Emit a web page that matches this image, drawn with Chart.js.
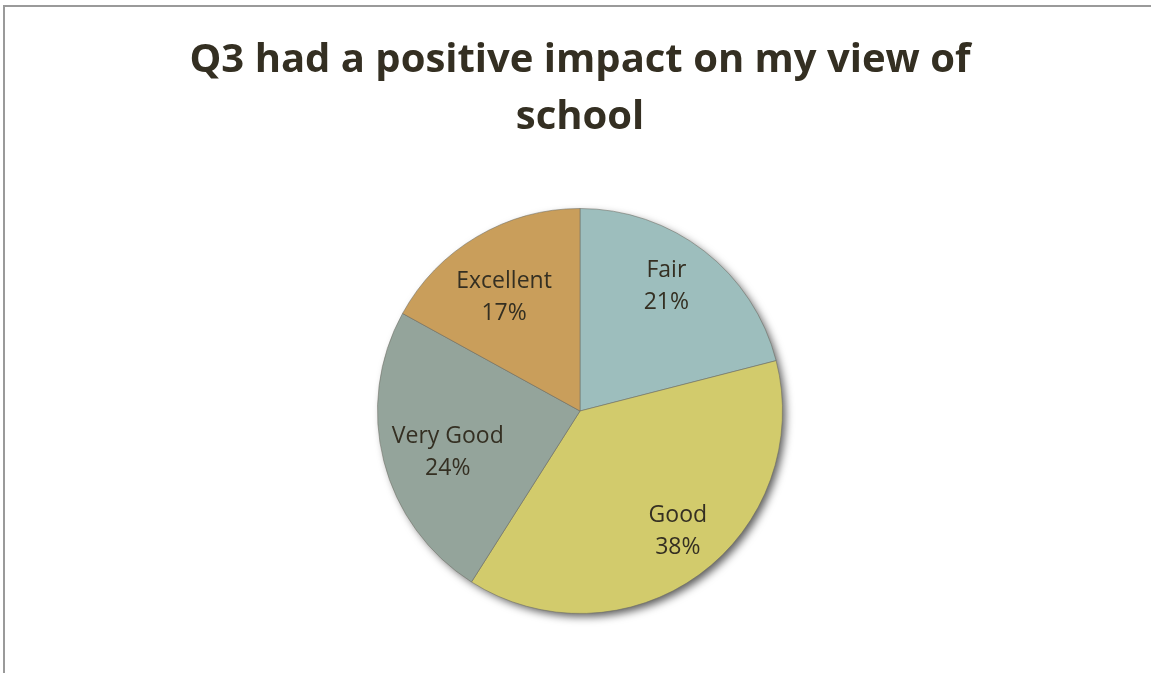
<!DOCTYPE html>
<html>
<head>
<meta charset="utf-8">
<script src="https://cdn.jsdelivr.net/npm/chart.js@4/dist/chart.umd.min.js"></script>
<style>
  html, body { margin: 0; padding: 0; background: #fff; overflow: hidden; }
  #frame {
    position: absolute; left: 3px; top: 5px;
    width: 1200px; height: 700px;
    border-left: 2px solid #9a9a9a; border-top: 2px solid #9a9a9a;
    box-sizing: border-box;
  }
  #wrap { position: absolute; left: 0; top: 0; width: 1151px; height: 673px; }
</style>
</head>
<body>
<div id="frame"></div>
<div id="wrap"><canvas id="c" width="1151" height="673"></canvas></div>
<script>
// Survey answers, clockwise from 12 o'clock
const categories = ['Fair', 'Good', 'Very Good', 'Excellent'];
const percentages = [21, 38, 24, 17];
const sliceColors = ['#9dbebd', '#d2cb6c', '#94a49b', '#c99e5b'];
const titleLines = ['Q3 had a positive impact on my view of', 'school'];

const TEXT = '#342f22';

// Soft drop shadow under the whole pie, using the arc geometry Chart.js computed
const pieShadow = {
  id: 'pieShadow',
  beforeDatasetsDraw(chart) {
    const arc = chart.getDatasetMeta(0).data[0];
    if (!arc) return;
    const ctx = chart.ctx;
    ctx.save();
    ctx.shadowColor = 'rgba(0,0,0,0.65)';
    ctx.shadowBlur = 9;
    ctx.shadowOffsetX = 4;
    ctx.shadowOffsetY = 4;
    ctx.fillStyle = '#888';
    ctx.beginPath();
    ctx.arc(arc.x, arc.y, arc.outerRadius - 1, 0, Math.PI * 2);
    ctx.fill();
    ctx.restore();
  }
};

// Category name and percentage inside each slice
const sliceLabels = {
  id: 'sliceLabels',
  afterDatasetsDraw(chart, args, opts) {
    const ctx = chart.ctx;
    const meta = chart.getDatasetMeta(0);
    ctx.save();
    ctx.fillStyle = TEXT;
    ctx.font = '23px "Open Sans", sans-serif';
    ctx.textAlign = 'center';
    ctx.textBaseline = 'middle';
    meta.data.forEach((arc, i) => {
      const mid = (arc.startAngle + arc.endAngle) / 2 + opts.angleShift;
      const r = arc.outerRadius * opts.radial[i];
      const x = arc.x + Math.cos(mid) * r;
      const y = arc.y + Math.sin(mid) * r;
      ctx.fillText(chart.data.labels[i], x, y - 16);
      ctx.fillText(chart.data.datasets[0].data[i] + '%', x, y + 16);
    });
    ctx.restore();
  }
};

new Chart(document.getElementById('c'), {
  type: 'pie',
  data: {
    labels: categories,
    datasets: [{
      data: percentages,
      backgroundColor: sliceColors,
      borderColor: 'rgba(110,110,100,0.55)',
      borderWidth: 1
    }]
  },
  options: {
    responsive: false,
    animation: false,
    layout: { padding: { top: 0, bottom: 59, left: 9, right: 0 } },
    plugins: {
      legend: { display: false },
      tooltip: { enabled: false },
      title: {
        display: true,
        text: titleLines,
        color: TEXT,
        font: { family: '"Open Sans", sans-serif', size: 40, weight: 'bold', lineHeight: 1.43 },
        padding: { top: 32, bottom: 61.6 }
      },
      sliceLabels: { radial: [0.75, 0.765, 0.685, 0.675], angleShift: -0.055 }
    }
  },
  plugins: [pieShadow, sliceLabels]
});
</script>
</body>
</html>
